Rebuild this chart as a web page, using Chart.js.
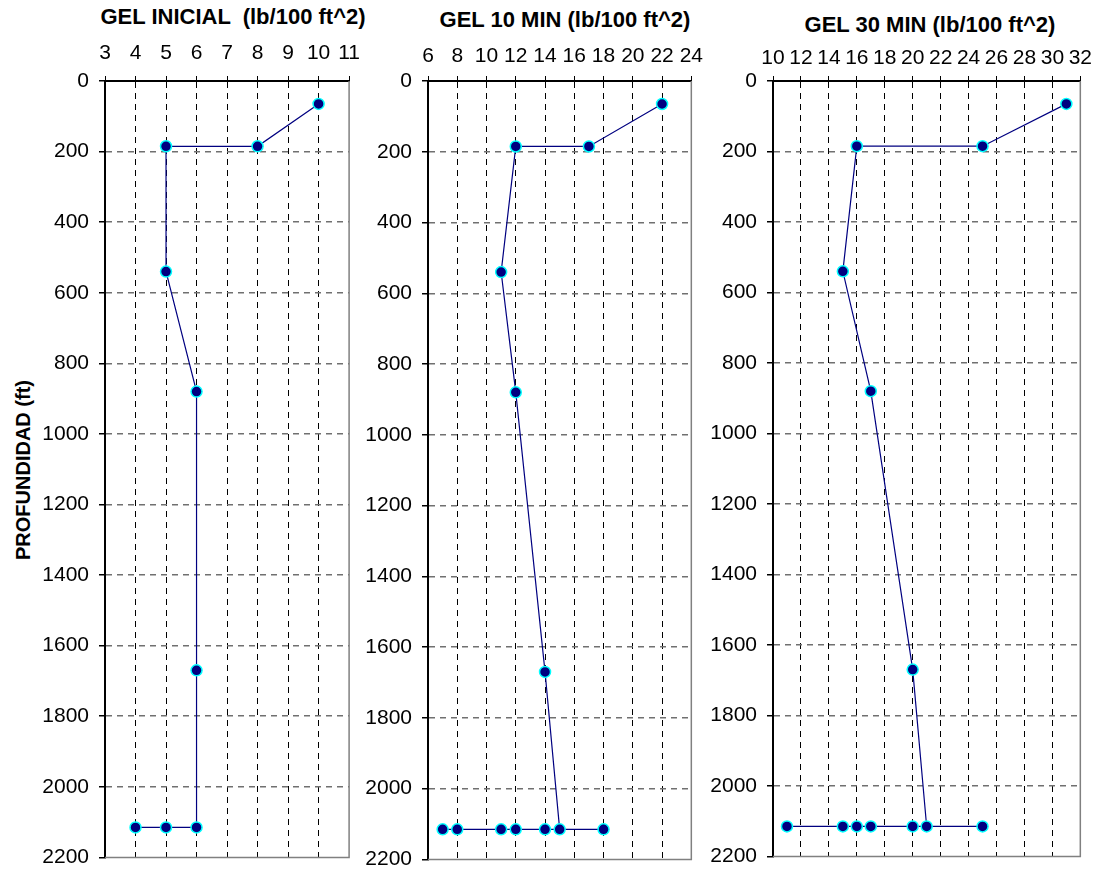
<!DOCTYPE html>
<html>
<head>
<meta charset="utf-8">
<script src="https://cdn.jsdelivr.net/npm/chart.js@4.4.0/dist/chart.umd.min.js"></script>
<style>
  body { margin: 0; background: #fff; width: 1107px; height: 886px; position: relative; overflow: hidden;
         font-family: "Liberation Sans", Arial, sans-serif; }
  canvas { position: absolute; }
  .title { position: absolute; font-weight: bold; font-size: 22px; white-space: pre; color: #000;
           transform: translate(-50%, -50%); }
  #ylabel { position: absolute; left: 23px; top: 470px; font-weight: bold; font-size: 20px; white-space: nowrap;
            transform: translate(-50%, -50%) rotate(-90deg); }
</style>
</head>
<body>
<div class="title" style="left:233px; top:17px;">GEL INICIAL  (lb/100 ft^2)</div>
<div class="title" style="left:565px; top:20px;">GEL 10 MIN (lb/100 ft^2)</div>
<div class="title" style="left:930px; top:25px;">GEL 30 MIN (lb/100 ft^2)</div>
<div id="ylabel">PROFUNDIDAD (ft)</div>
<canvas id="gelInicial" width="340" height="850" style="left:30px; top:30px;"></canvas>
<canvas id="gel10" width="360" height="852" style="left:350px; top:30px;"></canvas>
<canvas id="gel30" width="402" height="849" style="left:695px; top:30px;"></canvas>
<script>
// depth of each reading (ft), shared by the three panels
const depths = [65, 185, 185, 540, 880, 1670, 2115, 2115, 2115, 2115, 2115, 2115, 2115];

// gel strength readings (lb/100 ft^2)
const gelInicial = [10, 8, 5, 5, 6, 6, 6, 5, 4];
const gel10Min = [22, 17, 12, 11, 12, 14, 15, 18, 14, 12, 11, 8, 7];
const gel30Min = [31, 25, 16, 15, 17, 20, 21, 25, 20, 17, 16, 15, 11];

// axis ranges: [min, max, step]
const depthRange = [0, 2200, 200];
const rangeInicial = [3, 11, 1];
const range10Min = [6, 24, 2];
const range30Min = [10, 32, 2];

const NAVY = "#000080";
const tickFont = { family: "'Liberation Sans', Arial, sans-serif", size: 21 };

const toPoints = (values) => values.map((v, i) => ({ x: v, y: depths[i] }));

// hide the dashed grid line that sits on the far edge, the frame draws it there
const edgeColor = (color, edge) => (ctx) =>
  ctx.tick && ctx.tick.value === edge ? "rgba(0,0,0,0)" : color;

const frame = {
  id: "frame",
  beforeDatasetsDraw(chart) {
    const { ctx, chartArea: a } = chart;
    ctx.save();
    ctx.strokeStyle = "#808080";
    ctx.lineWidth = 1.5;
    ctx.beginPath();
    ctx.moveTo(a.left, a.bottom);
    ctx.lineTo(a.right, a.bottom);
    ctx.lineTo(a.right, a.top);
    ctx.stroke();
    ctx.restore();
  },
};

const makePanel = (id, values, range, box) => {
  const [xMin, xMax, xStep] = range;
  const [yMin, yMax, yStep] = depthRange;
  return new Chart(document.getElementById(id), {
    type: "scatter",
    data: {
      datasets: [
        {
          data: toPoints(values),
          showLine: true,
          borderColor: NAVY,
          borderWidth: 1.2,
          pointRadius: 5.5,
          pointHoverRadius: 5.5,
          pointBackgroundColor: NAVY,
          pointBorderColor: "#00ffff",
          pointBorderWidth: 1.5,
        },
      ],
    },
    options: {
      responsive: false,
      animation: false,
      events: [],
      layout: { padding: { left: 0, top: 0, right: box.padR, bottom: box.padB } },
      plugins: { legend: { display: false }, tooltip: { enabled: false } },
      scales: {
        x: {
          type: "linear",
          position: "top",
          min: xMin,
          max: xMax,
          ticks: { stepSize: xStep, autoSkip: false, maxRotation: 0, color: "#000", font: tickFont,
                   padding: box.xPad, callback: (v) => String(v) },
          grid: { color: edgeColor("#000", xMax), lineWidth: 1, tickColor: "#000", tickLength: 5, tickBorderDash: [] },
          border: { color: "#000", width: 2, dash: [6, 5] },
          afterFit: (s) => { s.height = box.xh; },
        },
        y: {
          type: "linear",
          reverse: true,
          min: yMin,
          max: yMax,
          ticks: { stepSize: yStep, autoSkip: false, color: "#000", font: tickFont, padding: 10,
                   callback: (v) => String(v) },
          grid: { color: edgeColor("#707070", yMax), lineWidth: 1.5, tickColor: "#000", tickLength: 6, tickBorderDash: [] },
          border: { color: "#000", width: 2, dash: [6, 5] },
          afterFit: (s) => { s.width = box.yw; },
        },
      },
    },
    plugins: [frame],
  });
};

makePanel("gelInicial", gelInicial, rangeInicial, { yw: 75, xh: 51, padR: 9, padB: 8, xPad: 10 });
makePanel("gel10", gel10Min, range10Min, { yw: 78, xh: 51, padR: 9, padB: 8, xPad: 7 });
makePanel("gel30", gel30Min, range30Min, { yw: 78, xh: 51, padR: 10, padB: 8, xPad: 5 });
</script>
</body>
</html>
